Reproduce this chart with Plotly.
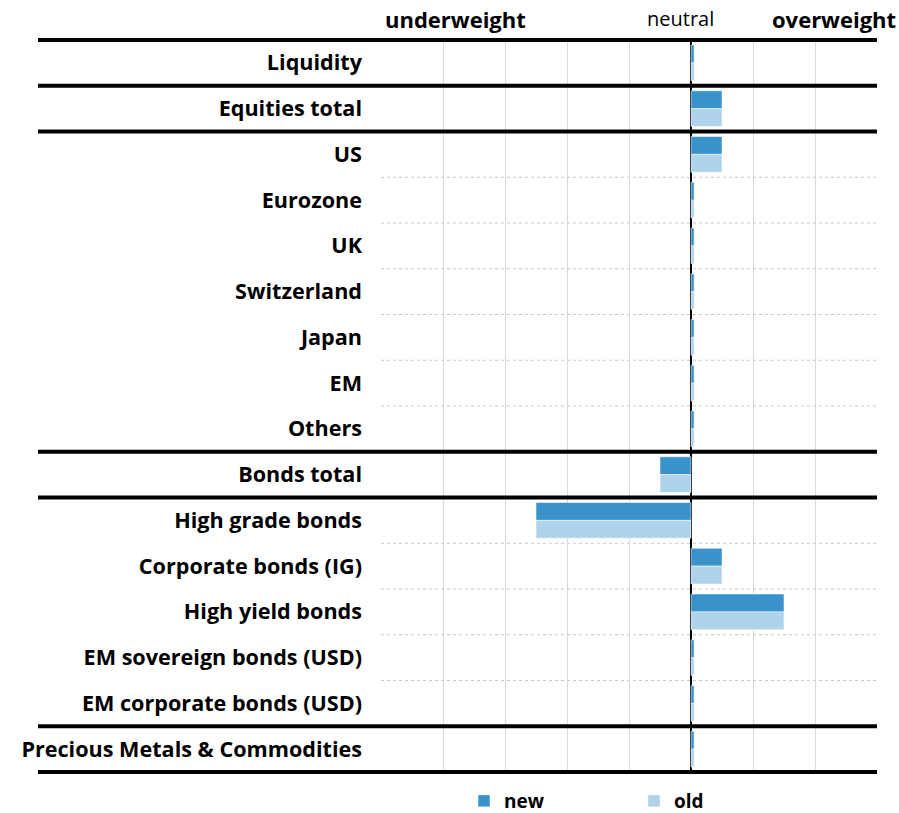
import plotly.graph_objects as go

categories = ["Liquidity", "Equities total", "US", "Eurozone", "UK", "Switzerland",
              "Japan", "EM", "Others", "Bonds total", "High grade bonds",
              "Corporate bonds (IG)", "High yield bonds", "EM sovereign bonds (USD)",
              "EM corporate bonds (USD)", "Precious Metals & Commodities"]
new_vals = [0.05, 0.5, 0.5, 0.05, 0.05, 0.05, 0.05, 0.05, 0.05, -0.5, -2.5, 0.5, 1.5, 0.05, 0.05, 0.05]
old_vals = [0.05, 0.5, 0.5, 0.05, 0.05, 0.05, 0.05, 0.05, 0.05, -0.5, -2.5, 0.5, 1.5, 0.05, 0.05, 0.05]
thick_after = [-1, 0, 1, 8, 9, 14, 15]  # group separators (index of row above)

W, H = 899, 813
L, R, T, B = 381, 22, 38, 39
pw, ph = W - L - R, H - T - B

fig = go.Figure()
fig.add_trace(go.Bar(y=categories, x=new_vals, orientation="h", name="new",
                     marker=dict(color="#3a92cb", line=dict(color="rgba(255,255,255,0.5)", width=1))))
fig.add_trace(go.Bar(y=categories, x=old_vals, orientation="h", name="old",
                     marker=dict(color="#afd3eb", line=dict(color="rgba(255,255,255,0.5)", width=1))))

shapes = []
n = len(categories)
for i in range(n - 1):
    if i in thick_after:
        continue
    shapes.append(dict(type="line", xref="paper", yref="y", x0=0, x1=1, y0=i + 0.5, y1=i + 0.5,
                       line=dict(color="#c8c8c8", width=1, dash="dot"), layer="below"))
xl = (38 - L) / pw
for i in thick_after:
    shapes.append(dict(type="line", xref="paper", yref="y", x0=xl, x1=1, y0=i + 0.5, y1=i + 0.5,
                       line=dict(color="black", width=4), layer="above"))

annotations = [
    dict(text="<b>underweight</b>", x=(455 - L) / pw, y=1 + (T - 19) / ph, size=22),
    dict(text="neutral", x=(680 - L) / pw, y=1 + (T - 19) / ph, size=20),
    dict(text="<b>overweight</b>", x=(834 - L) / pw, y=1 + (T - 19) / ph, size=22),
]
for a in annotations:
    sz = a.pop("size")
    a.update(xref="paper", yref="paper", xanchor="center", yanchor="middle", showarrow=False,
             font=dict(family="Open Sans", size=sz, color="black"))

fig.update_layout(
    width=W, height=H, margin=dict(l=L, r=R, t=T, b=B, autoexpand=False),
    paper_bgcolor="white", plot_bgcolor="white",
    barmode="group", bargap=0.22, bargroupgap=0,
    font=dict(family="Open Sans", color="black"),
    shapes=shapes, annotations=annotations,
    legend=dict(orientation="h", x=(464 - L) / pw, xanchor="left",
                yref="container", y=(H - 801) / H, yanchor="middle",
                font=dict(family="Open Sans", size=19, color="black", weight="bold"),
                entrywidth=125, itemwidth=30, traceorder="normal"),
    xaxis=dict(range=[-5, 3], dtick=1, showticklabels=False, showgrid=True, gridcolor="#d9d9d9",
               gridwidth=1, zeroline=True, zerolinecolor="black", zerolinewidth=2, fixedrange=True),
    yaxis=dict(autorange="reversed", showgrid=False, zeroline=False, ticks="", ticklabelstandoff=18,
               tickfont=dict(family="Open Sans", size=21.6, color="black", weight="bold")),
)

fig.write_html("out.html")
